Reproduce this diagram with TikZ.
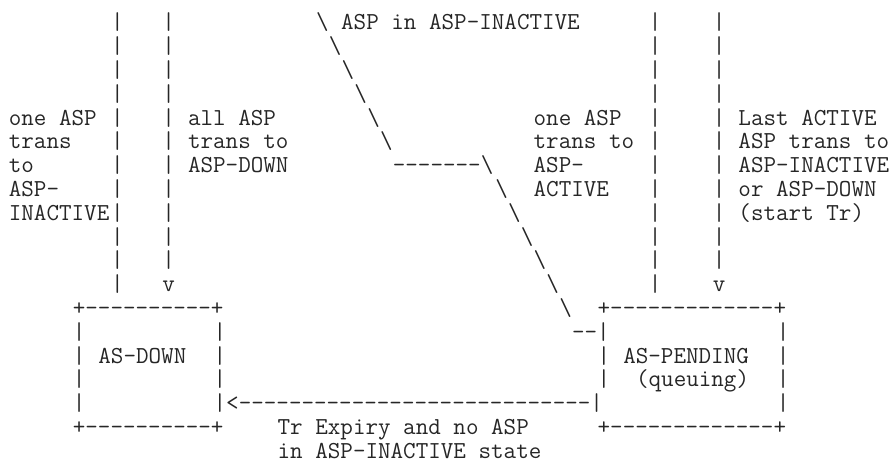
\documentclass[tikz,border=0pt]{standalone}
\usepackage{fontspec}
\setmonofont{Latin Modern Mono}
\usepackage{tikz}
\newcommand\asciifont{\ttfamily\fontsize{18.29pt}{18pt}\selectfont}
\tikzset{
  ascii/.style={anchor=base west,inner sep=0pt,outer sep=0pt,font=\asciifont,text=black!85},
}

\begin{document}
\begin{tikzpicture}[x=9.6pt,y=-17.85pt]
  \useasboundingbox (-0.69,-0.252) rectangle (69.15,19.33);
  % vertical transition lines
  \foreach \c in {8,12,50,55}{
    \foreach \r in {1,...,11}{ \node[ascii] (bar-\c-\r) at (\c,\r) {|}; }
  }
  \foreach \c in {8,50}{ \node[ascii] (bar-\c-12) at (\c,12) {|}; }
  \foreach \c in {12,55}{ \node[ascii] (tip-\c) at (\c,12) {v}; }
  % diagonal transition
  \node[ascii] (aspinact) at (24,1) {\textbackslash{} ASP in ASP-INACTIVE};
  \foreach \r in {2,...,6}{ \node[ascii] (diag-\r) at ({\r+23},\r) {\textbackslash}; }
  \node[ascii] (knee) at (30,7) {-------\textbackslash};
  \foreach \r in {8,...,13}{ \node[ascii] (diag-\r) at ({\r+30},\r) {\textbackslash}; }
  \node[ascii] (entry) at (44,14) {--|};
  % labels
  \foreach \r/\t in {5/one ASP,6/trans,7/to,8/ASP-,9/INACTIVE}{ \node[ascii] (lblA-\r) at (0,\r) {\t}; }
  \foreach \r/\t in {5/all ASP,6/trans to,7/ASP-DOWN}{ \node[ascii] (lblB-\r) at (14,\r) {\t}; }
  \foreach \r/\t in {5/one ASP,6/trans to,7/ASP-,8/ACTIVE}{ \node[ascii] (lblC-\r) at (41,\r) {\t}; }
  \foreach \r/\t in {5/Last ACTIVE,6/ASP trans to,7/ASP-INACTIVE,8/or ASP-DOWN,9/(start Tr)}{ \node[ascii] (lblD-\r) at (57,\r) {\t}; }
  % AS-DOWN box
  \node[ascii] (downtop) at (5,13) {+----------+};
  \node[ascii] (downbot) at (5,18) {+----------+};
  \foreach \r in {14,...,17}{ \node[ascii] (downL-\r) at (5,\r) {|}; }
  \foreach \r in {14,...,16}{ \node[ascii] (downR-\r) at (16,\r) {|}; }
  \node[ascii] (asdown) at (7,15) {AS-DOWN};
  % AS-PENDING box
  \node[ascii] (pendtop) at (46,13) {+-------------+};
  \node[ascii] (pendbot) at (46,18) {+-------------+};
  \foreach \r in {15,16}{ \node[ascii] (pendL-\r) at (46,\r) {|}; }
  \foreach \r in {14,...,17}{ \node[ascii] (pendR-\r) at (60,\r) {|}; }
  \node[ascii] (aspend) at (48,15) {AS-PENDING};
  \node[ascii] (queuing) at (49,16) {(queuing)};
  % expiry transition
  \node[ascii] (expiry) at (16,17) {|<----------------------------|};
  \node[ascii] (expA) at (21,18) {Tr Expiry and no ASP};
  \node[ascii] (expB) at (21,19) {in ASP-INACTIVE state};
\end{tikzpicture}
\end{document}
